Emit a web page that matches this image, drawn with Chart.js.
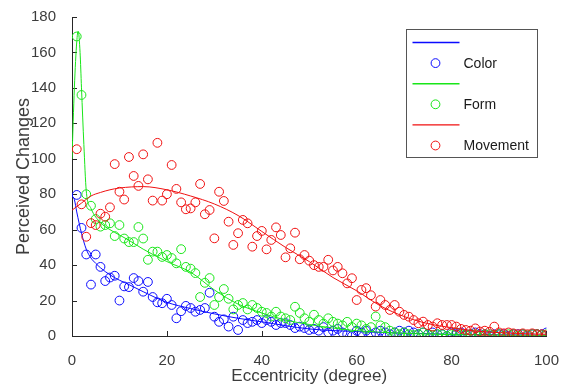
<!DOCTYPE html>
<html>
<head>
<meta charset="utf-8">
<script src="https://cdn.jsdelivr.net/npm/chart.js@4.4.0/dist/chart.umd.min.js"></script>
<style>
  html, body { margin: 0; padding: 0; background: #fff; }
</style>
</head>
<body>
<canvas id="chart" width="567" height="388"></canvas>
<script>
// eccentricity (degree) for every measured point
const eccentricity = [
  1, 2, 3, 4, 5, 6, 7, 8, 9, 10, 11, 12, 13, 14, 15, 16, 17, 18, 19, 20,
  21, 22, 23, 24, 25, 26, 27, 28, 29, 30, 31, 32, 33, 34, 35, 36, 37, 38, 39, 40,
  41, 42, 43, 44, 45, 46, 47, 48, 49, 50, 51, 52, 53, 54, 55, 56, 57, 58, 59, 60,
  61, 62, 63, 64, 65, 66, 67, 68, 69, 70, 71, 72, 73, 74, 75, 76, 77, 78, 79, 80,
  81, 82, 83, 84, 85, 86, 87, 88, 89, 90, 91, 92, 93, 94, 95, 96, 97, 98, 99, 100
];

// perceived changes, one value per eccentricity
const colorValues = [
  79.6, 61, 46, 29, 46, 39, 31, 33, 34, 20, 28, 27.6, 32.7, 31, 25, 30.5, 22, 19, 18.5, 21,
  17.5, 10, 14, 17, 15.8, 13.7, 14.7, 15.8, 24.4, 10.9, 8, 9.4, 5.3, 10.9, 3.4, 9, 7.3, 8, 9, 7.3,
  9, 8, 6.2, 7.3, 7.3, 6.2, 4.5, 5.3, 4.5, 3.4, 4, 3, 5, 2, 3, 4, 2, 1, 0, 3,
  2, 3, 1, 2, 3, 2, 1, 2, 3, 2, 3, 2, 1, 2, 1, 2, 1, 1, 0, 2,
  1, 2, 1, 1, 2, 1, 1, 0, 1, 1, 1, 0, 1, 1, 1, 0, 1, 1, 1, 2
];
const formValues = [
  169, 136, 80, 73.5, 66, 61.7, 62.6, 63.6, 56.4, 62.6, 55, 53, 53, 61.5, 55, 43, 47.6, 47.6, 44.6, 45.7,
  44, 41, 49, 39, 38, 35.5, 22, 30, 32.7, 17.5, 22, 26.5, 21, 15, 17.5, 18.6, 15, 17.5, 15.8, 13.7,
  13, 11, 13.7, 11, 10, 9, 16.5, 13, 10, 8, 12, 9, 7, 10, 8, 7, 6, 8, 5, 7,
  6, 4, 5, 11, 6, 5, 3, 2, 1, 2, 1, 0.5, 1, 2, 1, 0.5, 1, 1, 0, 1,
  2, 1, 0.5, 1, 1, 0, 1, 1, 0.5, 1, 0, 1, 1, 0, 1, 0.5, 1, 1, 0.5, 1
];
const movementValues = [
  105.4, 74.3, 56, 63.7, 62.6, 69, 67.3, 72.6, 97, 81.4, 77, 101, 90.3, 84.7, 102.5, 88.4, 76.4, 109, 76.4, 80,
  96.5, 83, 75.4, 71.5, 72, 75.4, 85.8, 68.7, 71.1, 55.1, 81.4, 76.2, 64.5, 51.4, 58, 65.5, 63.6, 50.4, 56.4, 59.3,
  48.9, 54.2, 61.3, 57, 44.4, 49.5, 58.3, 43.3, 45.7, 42.5, 40, 39, 39, 43, 37, 39, 35.4, 29.7, 32.6, 20.3,
  26, 27, 23, 16.6, 20.3, 17.5, 14.7, 17.5, 13.7, 11.9, 10.9, 9, 7.2, 8.1, 6.2, 5.3, 7.2, 6.2, 6.2, 6.2,
  5.3, 4, 3.4, 3, 4.3, 2.5, 3, 2.4, 5.3, 2, 1.5, 2, 1.5, 1, 1.5, 1, 1.5, 1, 1, 0.5
];

// fitted curves
const colorFitX = [0, 0.5, 1, 2, 3, 4, 5, 6, 8, 10, 12, 15, 20, 25, 30, 35, 40, 50, 60, 70, 80, 90, 100];
const colorFitY = [79, 77, 70, 58, 49, 44, 41, 38.5, 34.5, 31.5, 29, 25, 19, 15.5, 12.5, 10, 8, 4, 2.5, 1.6, 1, 0.7, 0.5];
const formFitX = [0, 0.5, 1, 1.3, 1.7, 2, 2.5, 3, 4, 6, 8, 10, 12, 15, 20, 25, 30, 35, 40, 45, 50, 55, 60, 70, 80, 90, 100];
const formFitY = [100, 140, 166, 172, 160, 140, 108, 82, 72, 64, 60, 57, 54, 49, 42, 36, 26, 18, 13, 9, 6.5, 4.5, 3, 1.5, 0.8, 0.5, 0.3];
const movementFitX = [0, 2, 4, 6, 8, 10, 15, 20, 25, 30, 35, 40, 45, 50, 55, 60, 65, 70, 75, 80, 85, 90, 95, 100];
const movementFitY = [71, 75, 79, 81, 82.5, 83.5, 84.3, 82.5, 79, 74.5, 68, 59, 50, 42, 33, 25.5, 17, 11, 7, 4.7, 2.8, 1.9, 1.3, 1];

const seriesNames = ['Color', 'Form', 'Movement'];
const seriesColors = ['#0a0aff', '#19e619', '#f01010'];

const xTicks = [0, 20, 40, 60, 80, 100];
const yTicks = [0, 20, 40, 60, 80, 100, 120, 140, 160, 180];

const AXIS_COLOR = '#262626';
const TEXT_COLOR = '#3c3c3c';
const FONT = '"Liberation Sans", Arial, Helvetica, sans-serif';

function pairs(xs, ys) {
  return xs.map((x, i) => ({ x, y: ys[i] }));
}

function fitLine(xs, ys, color, order) {
  return {
    type: 'line',
    data: pairs(xs, ys),
    borderColor: color,
    borderWidth: 1,
    pointRadius: 0,
    fill: false,
    cubicInterpolationMode: 'monotone',
    order,
  };
}

function scatterPts(ys, color, order) {
  return {
    type: 'scatter',
    data: pairs(eccentricity, ys),
    borderColor: color,
    backgroundColor: 'rgba(0,0,0,0)',
    borderWidth: 1,
    pointRadius: 4.4,
    pointStyle: 'circle',
    order,
  };
}

// inward tick marks like the original figure
const inwardTicks = {
  id: 'inwardTicks',
  beforeDatasetsDraw(chart) {
    const { ctx, chartArea, scales: { x, y } } = chart;
    ctx.save();
    ctx.strokeStyle = AXIS_COLOR;
    ctx.lineWidth = 1;
    ctx.beginPath();
    x.ticks.forEach((t) => {
      const px = Math.round(x.getPixelForValue(t.value)) + 0.5;
      ctx.moveTo(px, chartArea.bottom);
      ctx.lineTo(px, chartArea.bottom - 5);
    });
    y.ticks.forEach((t) => {
      const py = Math.round(y.getPixelForValue(t.value)) + 0.5;
      ctx.moveTo(chartArea.left, py);
      ctx.lineTo(chartArea.left + 5, py);
    });
    ctx.stroke();
    ctx.restore();
  },
};

// boxed legend: a line sample row, then a marker row with the name
const seriesLegend = {
  id: 'seriesLegend',
  afterDraw(chart) {
    const { ctx, chartArea } = chart;
    const boxW = 131, boxH = 128;
    const left = Math.round(chartArea.right - 9 - boxW) + 0.5;
    const top = Math.round(chartArea.top + 12) + 0.5;
    ctx.save();
    ctx.fillStyle = '#fff';
    ctx.fillRect(left, top, boxW, boxH);
    ctx.strokeStyle = '#555';
    ctx.lineWidth = 1;
    ctx.strokeRect(left, top, boxW, boxH);
    ctx.font = '14px ' + FONT;
    ctx.textBaseline = 'middle';
    seriesNames.forEach((name, i) => {
      const lineY = top + 13 + i * 41.2;
      const markY = top + 33.6 + i * 41.2;
      ctx.strokeStyle = seriesColors[i];
      ctx.lineWidth = 1.4;
      ctx.beginPath();
      ctx.moveTo(left + 6, lineY);
      ctx.lineTo(left + 53, lineY);
      ctx.stroke();
      ctx.lineWidth = 1;
      ctx.beginPath();
      ctx.arc(left + 29, markY, 4.4, 0, Math.PI * 2);
      ctx.stroke();
      ctx.fillStyle = '#1a1a1a';
      ctx.fillText(name, left + 57, markY + 1);
    });
    ctx.restore();
  },
};

const datasets = [
  scatterPts(movementValues, seriesColors[2], 0),
  fitLine(movementFitX, movementFitY, seriesColors[2], 1),
  scatterPts(formValues, seriesColors[1], 2),
  fitLine(formFitX, formFitY, seriesColors[1], 3),
  scatterPts(colorValues, seriesColors[0], 4),
  fitLine(colorFitX, colorFitY, seriesColors[0], 5),
];

new Chart(document.getElementById('chart').getContext('2d'), {
  type: 'scatter',
  data: { datasets },
  plugins: [inwardTicks, seriesLegend],
  options: {
    responsive: false,
    animation: false,
    layout: { padding: { top: 17, right: 19, bottom: 0, left: 0 } },
    plugins: { legend: { display: false }, tooltip: { enabled: false } },
    scales: {
      x: {
        type: 'linear',
        min: 0,
        max: 100,
        afterBuildTicks: (s) => { s.ticks = xTicks.map((v) => ({ value: v })); },
        afterFit: (s) => { s.height = 52; },
        ticks: { color: TEXT_COLOR, font: { family: FONT, size: 15 }, padding: 8 },
        grid: { display: false },
        border: { color: AXIS_COLOR, width: 1 },
        title: {
          display: true,
          text: 'Eccentricity (degree)',
          color: TEXT_COLOR,
          font: { family: FONT, size: 17 },
          padding: { top: 0, bottom: 1 },
        },
      },
      y: {
        min: 0,
        max: 180,
        afterBuildTicks: (s) => { s.ticks = yTicks.map((v) => ({ value: v })); },
        afterFit: (s) => { s.width = 72; },
        ticks: { color: TEXT_COLOR, font: { family: FONT, size: 15 }, padding: 8 },
        grid: { display: false },
        border: { color: AXIS_COLOR, width: 1 },
        title: {
          display: true,
          text: 'Perceived Changes',
          color: TEXT_COLOR,
          font: { family: FONT, size: 18 },
          padding: { top: 13, bottom: 0 },
        },
      },
    },
  },
});
</script>
</body>
</html>
